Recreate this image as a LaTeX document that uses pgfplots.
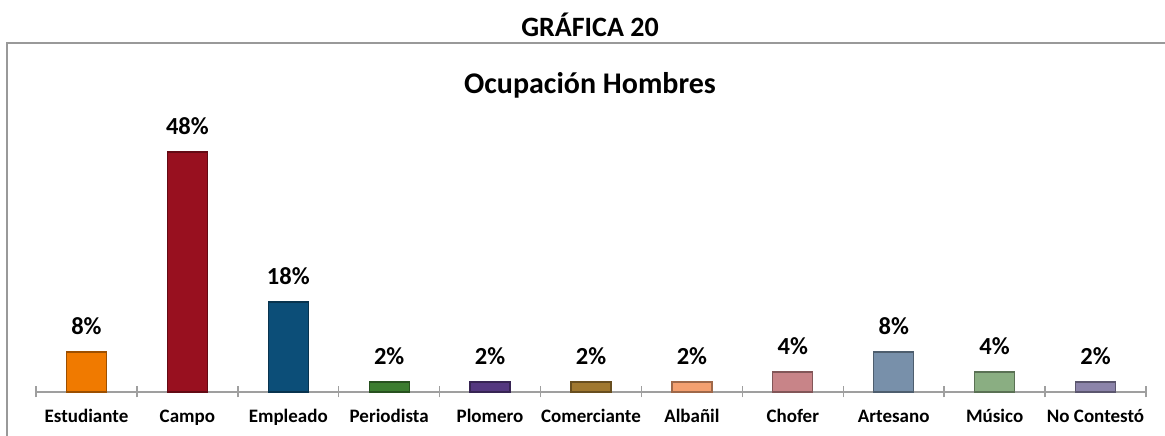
\documentclass[border=0pt]{standalone}
\usepackage{fontspec}
\setmainfont{Carlito}
\usepackage{pgfplots}
\pgfplotsset{compat=1.18}
\definecolor{cEst}{HTML}{F07A00}
\definecolor{cCam}{HTML}{98101F}
\definecolor{cEmp}{HTML}{0C4E78}
\definecolor{cPer}{HTML}{3C7D30}
\definecolor{cPlo}{HTML}{553880}
\definecolor{cCom}{HTML}{A07830}
\definecolor{cAlb}{HTML}{F4A070}
\definecolor{cCho}{HTML}{C88488}
\definecolor{cArt}{HTML}{7890AA}
\definecolor{cMus}{HTML}{8AAE82}
\definecolor{cNoC}{HTML}{8C84AA}
\begin{document}
\begin{tikzpicture}[x=1pt,y=1pt]
\useasboundingbox (0,0) rectangle (1165,436);
\draw[gray!80, line width=1.5pt] (7,-5) -- (7,393) -- (1175,393);
\node[font=\bfseries\fontsize{28}{30}\selectfont] at (590,411) {GRÁFICA 20};
\node[font=\bfseries\fontsize{30}{32}\selectfont] at (590,351) {Ocupación Hombres};
\begin{axis}[
  at={(36pt,44pt)}, anchor=south west,
  scale only axis, width=1110pt, height=300pt,
  xmin=-0.5, xmax=10.5, ymin=0, ymax=60,
  axis y line=none, axis x line*=bottom,
  axis line style={-, gray!75, line width=1.5pt},
  xtick={0,...,10},
  xticklabels={Estudiante,Campo,Empleado,Periodista,Plomero,Comerciante,Albañil,Chofer,Artesano,Músico,No Contestó},
  major tick length=0pt,
  xticklabel style={font=\bfseries\fontsize{19}{21}\selectfont, inner sep=0pt, anchor=base, yshift=-31pt},
  extra x ticks={-0.5,0.5,1.5,2.5,3.5,4.5,5.5,6.5,7.5,8.5,9.5,10.5},
  extra x tick labels={},
  extra x tick style={major tick length=11pt, tick align=center, tick style={gray!75, line width=1.5pt}},
  ybar, bar width=40pt, bar shift=0pt,
  /pgf/number format/assume math mode=true,
  nodes near coords={\pgfmathprintnumber{\pgfplotspointmeta}\%},
  nodes near coords style={font=\bfseries\fontsize{24.5}{26}\selectfont, text=black, anchor=base, inner sep=0pt, yshift=17pt},
  clip=false,
]
\addplot[fill=cEst, draw=cEst!65!black, line width=1.2pt] coordinates {(0,8)};
\addplot[fill=cCam, draw=cCam!65!black, line width=1.2pt] coordinates {(1,48)};
\addplot[fill=cEmp, draw=cEmp!65!black, line width=1.2pt] coordinates {(2,18)};
\addplot[fill=cPer, draw=cPer!65!black, line width=1.2pt] coordinates {(3,2)};
\addplot[fill=cPlo, draw=cPlo!65!black, line width=1.2pt] coordinates {(4,2)};
\addplot[fill=cCom, draw=cCom!65!black, line width=1.2pt] coordinates {(5,2)};
\addplot[fill=cAlb, draw=cAlb!65!black, line width=1.2pt] coordinates {(6,2)};
\addplot[fill=cCho, draw=cCho!65!black, line width=1.2pt] coordinates {(7,4)};
\addplot[fill=cArt, draw=cArt!65!black, line width=1.2pt] coordinates {(8,8)};
\addplot[fill=cMus, draw=cMus!65!black, line width=1.2pt] coordinates {(9,4)};
\addplot[fill=cNoC, draw=cNoC!65!black, line width=1.2pt] coordinates {(10,2)};
\end{axis}
\end{tikzpicture}
\end{document}
